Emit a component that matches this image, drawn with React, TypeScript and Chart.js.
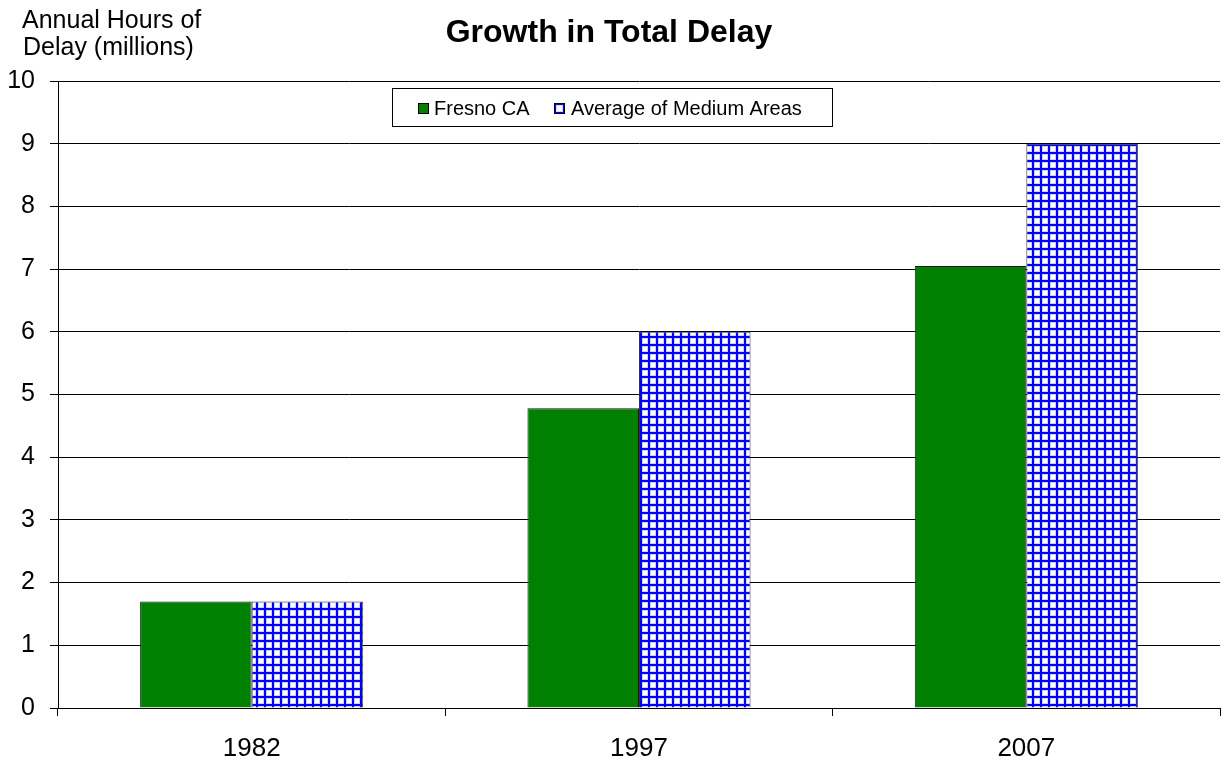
import React, { useEffect, useRef } from "react";
import { Chart, registerables } from "chart.js";

Chart.register(...registerables);

const categories = ["1982", "1997", "2007"];
const fresnoValues = [1.7, 4.78, 7.05];
const mediumAvgValues = [1.7, 6.0, 9.0];
const seriesNames = ["Fresno CA", "Average of Medium Areas"];
const chartTitle = "Growth in Total Delay";
const yTitleLines = ["Annual Hours of", "Delay (millions)"];
const yMin = 0;
const yMax = 10;
const yStep = 1;

const FONT = "'Liberation Sans', Arial, sans-serif";

function makeGridPattern(ctx: CanvasRenderingContext2D): CanvasPattern | string {
  const c = document.createElement("canvas");
  c.width = 8;
  c.height = 8;
  const p = c.getContext("2d");
  if (!p) return "#0000ff";
  p.fillStyle = "#ffffff";
  p.fillRect(0, 0, 8, 8);
  p.fillStyle = "#d0d0ff";
  p.fillRect(2, 0, 1, 8);
  p.fillRect(0, 2, 8, 1);
  p.fillRect(7, 0, 1, 8);
  p.fillRect(0, 7, 8, 1);
  p.fillStyle = "#0000ff";
  p.fillRect(0, 0, 2, 8);
  p.fillRect(0, 0, 8, 2);
  return ctx.createPattern(c, "repeat") || "#0000ff";
}

const decorPlugin = {
  id: "decor",
  afterDraw(chart: any) {
    const ctx = chart.ctx as CanvasRenderingContext2D;
    ctx.save();
    // Title
    ctx.fillStyle = "#000";
    ctx.font = `bold 32px ${FONT}`;
    ctx.textAlign = "center";
    ctx.textBaseline = "alphabetic";
    ctx.fillText(chartTitle, 609, 42);
    // Y axis title (horizontal, top-left)
    ctx.font = `25px ${FONT}`;
    ctx.textAlign = "left";
    ctx.fillText(yTitleLines[0], 22, 28);
    ctx.fillText(yTitleLines[1], 23, 55);
    // Legend
    const lx = 392, ly = 88, lw = 440, lh = 38;
    ctx.fillStyle = "#fff";
    ctx.fillRect(lx, ly, lw, lh);
    ctx.strokeStyle = "#000";
    ctx.lineWidth = 1;
    ctx.strokeRect(lx + 0.5, ly + 0.5, lw, lh);
    const ds = chart.data.datasets;
    ctx.font = `20px ${FONT}`;
    ctx.textBaseline = "alphabetic";
    // Fresno swatch
    ctx.fillStyle = ds[0].backgroundColor;
    ctx.fillRect(418, 103, 11, 11);
    ctx.strokeStyle = "#000";
    ctx.strokeRect(418.5, 103.5, 10, 10);
    ctx.fillStyle = "#000";
    ctx.fillText(ds[0].label, 434, 115);
    // Average swatch (pattern sample)
    ctx.fillStyle = "#0000ff";
    ctx.fillRect(554, 103, 11, 11);
    ctx.fillStyle = "#d8d8ff";
    ctx.fillRect(556, 105, 7, 7);
    ctx.fillStyle = "#ffffff";
    ctx.fillRect(557, 106, 5, 5);
    ctx.strokeStyle = "#000";
    ctx.strokeRect(554.5, 103.5, 10, 10);
    ctx.fillStyle = "#000";
    ctx.fillText(ds[1].label, 571, 115);
    ctx.restore();
  },
};

export default function App() {
  const ref = useRef<HTMLCanvasElement>(null);
  useEffect(() => {
    document.body.style.margin = "0";
    const canvas = ref.current;
    if (!canvas) return;
    const ctx = canvas.getContext("2d")!;
    const pattern = makeGridPattern(ctx);
    const chart = new Chart(ctx, {
      type: "bar",
      data: {
        labels: categories,
        datasets: [
          {
            label: seriesNames[0],
            data: fresnoValues,
            backgroundColor: "#008000",
            borderColor: "#1a1a1a",
            borderWidth: 1,
          },
          {
            label: seriesNames[1],
            data: mediumAvgValues,
            backgroundColor: pattern as any,
            borderColor: "#333333",
            borderWidth: 1,
          },
        ],
      },
      options: {
        responsive: false,
        animation: false,
        devicePixelRatio: 1,
        layout: { padding: { top: 81, right: 5, left: 0, bottom: 0 } },
        datasets: { bar: { categoryPercentage: 0.576, barPercentage: 1 } },
        plugins: {
          legend: { display: false },
          title: { display: false },
          tooltip: { enabled: false },
        },
        scales: {
          x: {
            grid: {
              display: true,
              offset: true,
              drawOnChartArea: false,
              drawTicks: true,
              tickLength: 8,
              color: "#000",
            },
            border: { display: true, color: "#000", width: 1 },
            ticks: { color: "#000", font: { family: FONT, size: 26 }, padding: 17 },
            afterFit: (s: any) => {
              s.height = 54;
            },
          },
          y: {
            min: yMin,
            max: yMax,
            ticks: {
              stepSize: yStep,
              color: "#000",
              font: { family: FONT, size: 25 },
              padding: 15,
            },
            grid: { color: "#000", lineWidth: 1, tickLength: 8, drawTicks: true },
            border: { display: true, color: "#000", width: 1 },
            afterFit: (s: any) => {
              s.width = 58;
            },
          },
        },
      },
      plugins: [decorPlugin],
    });
    return () => chart.destroy();
  }, []);
  return (
    <div style={{ width: 1225, height: 762, background: "#fff" }}>
      <canvas ref={ref} width={1225} height={762} style={{ display: "block" }} />
    </div>
  );
}
